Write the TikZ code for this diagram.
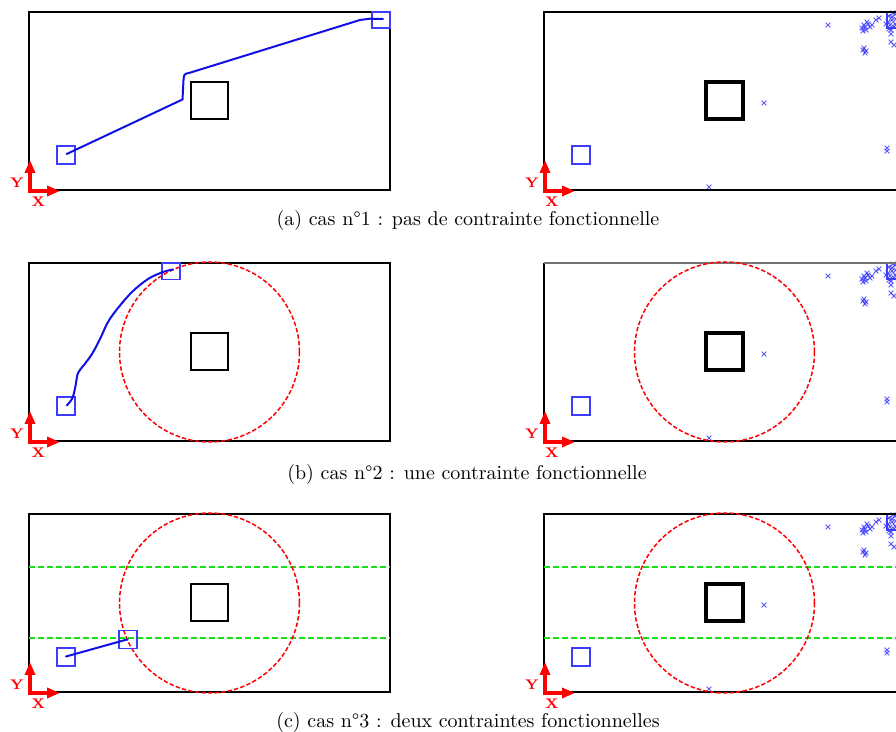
\documentclass[tikz,border=0pt]{standalone}
\usepackage{fontspec}
\usetikzlibrary{arrows.meta}
\definecolor{trajblue}{RGB}{15,15,230}
\definecolor{boxblue}{RGB}{60,60,255}
\definecolor{crossblue}{RGB}{60,60,255}
\definecolor{axred}{RGB}{255,0,0}
\definecolor{zonegreen}{RGB}{20,225,20}
\tikzset{
  frame/.style={line width=1.3pt, black},
  obst/.style={line width=0.8pt, black},
  obstthick/.style={line width=1.9pt, black},
  tbox/.style={line width=0.6pt, boxblue},
  traj/.style={line width=1pt, trajblue, line join=round, line cap=round},
  safezone/.style={line width=0.75pt, axred, dash pattern=on 2.2pt off 1.1pt},
  lane/.style={line width=0.7pt, zonegreen, dash pattern=on 3pt off 1.5pt},
  axis/.style={line width=1.8pt, axred, -{Triangle[length=6.5pt,width=5pt]}},
  axlbl/.style={text=axred, font=\fontsize{7}{8}\selectfont\bfseries, inner sep=0pt},
  caption/.style={font=\fontsize{10}{12}\selectfont, inner sep=0pt},
  xm/.pic={\draw[crossblue, line width=0.45pt, opacity=0.85] (-2.4,-2.4) -- (2.4,2.4) (-2.4,2.4) -- (2.4,-2.4);}
}
\begin{document}
\begin{tikzpicture}[x=0.5pt, y=-0.5pt]
\useasboundingbox (0,0) rectangle (896,732);
\clip (0,0) rectangle (896,732);

\foreach \dy/\row in {0/a, 251/b, 502/c}{
  \begin{scope}[shift={(0,\dy)}]
    % left panel
    \draw[frame] (29,12) rectangle (390,190);
    \draw[obst] (191,82) rectangle (228,119);
    \draw[tbox] (57,146) rectangle (75,164);
    \draw[axis] (30,193) -- (30,160);
    \draw[axis] (28.5,191) -- (60,191);
    \node[axlbl] (ly\row) at (17,183) {Y};
    \node[axlbl] (lx\row) at (38.5,202) {X};
    % right panel
    \draw[obstthick] (706,82) rectangle (743,119);
    \draw[tbox] (572,146) rectangle (590,164);
    \draw[tbox] (887,12) rectangle (905,28);
    \foreach \px/\py in {828/25, 764/103, 709/187, 887/148, 887/151,
        862/28, 864/25, 866/30, 868/24, 870/27, 865/27, 863/31, 867/22, 872/25,
        876/20, 879/18, 864/48, 866/51, 865/53, 863/50,
        891/34, 891/42, 894/45,
        889/16, 892/20, 895/14, 890/25, 894/27, 888/22, 896/19, 893/13, 891/30, 886/24, 895/24, 889/29, 892/17}
      \pic at (\px,\py) {xm};
    \node[axlbl] (ry\row) at (532,183) {Y};
    \node[axlbl] (rx\row) at (552,202) {X};
  \end{scope}
}

% right frames (row b has a grey top edge)
\draw[frame] (905,12) -- (544,12) -- (544,190) -- (905,190);
\draw[frame] (544,263) -- (544,441) -- (905,441);
\draw[line width=0.8pt, black!55] (544,263) -- (905,263);
\draw[frame] (905,514) -- (544,514) -- (544,692) -- (905,692);
% right axes
\foreach \dy in {0,251,502}{
  \draw[axis] (545,193+\dy) -- (545,160+\dy);
  \draw[axis] (543.5,191+\dy) -- (575,191+\dy);
}

% ---------- row (a) ----------
\draw[tbox] (372,12) rectangle (390,28);
\draw[traj] (66.7,154) -- (182.5,99.5) -- (183.5,80)
  .. controls (184,74) .. (190,72.7) -- (360,20)
  .. controls (365,18.5) .. (370,18.7) -- (383,19);
\node[caption] (capa) at (468,221) {(a) cas n°1 : pas de contrainte fonctionnelle};

% ---------- row (b) ----------
\begin{scope}[shift={(0,251)}]
  \draw[safezone] (209.5,101) circle [radius=90];
  \draw[safezone] (724.5,101) circle [radius=90];
  \draw[tbox] (162,12) rectangle (180,28.5);
  \draw[traj] plot[smooth, tension=0.55] coordinates {(66.7,154.5) (72.5,147) (75.5,135) (78,122) (84,114)
     (92,103) (100,88) (108,71) (118,57) (132,41) (148,28) (163,21) (173,18.5)};
\end{scope}
\node[caption] (capb) at (467,474.5) {(b) cas n°2 : une contrainte fonctionnelle};

% ---------- row (c) ----------
\begin{scope}[shift={(0,502)}]
  \draw[lane] (29,65) -- (390,65);
  \draw[lane] (29,136) -- (390,136);
  \draw[lane] (544,65) -- (905,65);
  \draw[lane] (544,136) -- (905,136);
  \draw[safezone] (209.5,101) circle [radius=90];
  \draw[safezone] (724.5,101) circle [radius=90];
  \draw[tbox] (119,128.5) rectangle (137,146.5);
  \draw[traj] (66,154.5) -- (127.7,137.3);
\end{scope}
\node[caption] (capc) at (468,723) {(c) cas n°3 : deux contraintes fonctionnelles};
\end{tikzpicture}
\end{document}
